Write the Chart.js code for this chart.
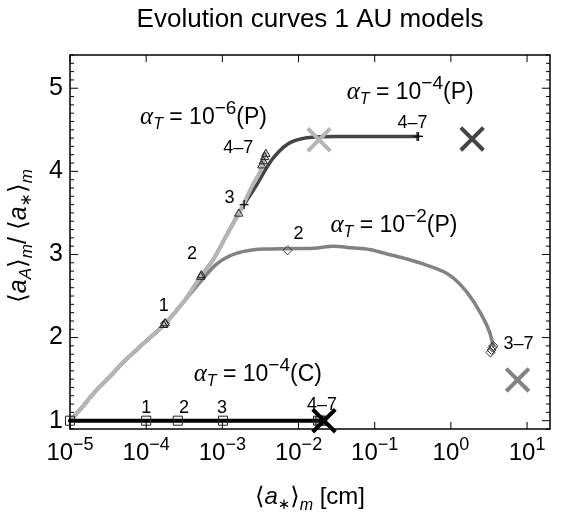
<!DOCTYPE html>
<html>
<head>
<meta charset="utf-8">
<title>Evolution curves 1 AU models</title>
<script src="https://cdn.jsdelivr.net/npm/chart.js@4.4.1/dist/chart.umd.min.js"></script>
<style>
  html, body { margin: 0; padding: 0; background: #fff; }
  #evoChart { display: block; }
</style>
</head>
<body>
<canvas id="evoChart" width="570" height="515"></canvas>
<script>
// <a*>_m [cm] on x, <a_A>_m / <a*>_m on y
const xTicks = [1e-5, 1e-4, 1e-3, 1e-2, 1e-1, 1e0, 1e1];
const xTickExp = ['\u22125', '\u22124', '\u22123', '\u22122', '\u22121', '0', '1'];
const yTicks = [1, 2, 3, 4, 5];

// alpha_T = 1e-6 (P), light grey
const p6X = [1e-5, 1.41e-5, 2.0e-5, 3.24e-5, 5.37e-5, 9.5e-5, 1.74e-4, 3.16e-4, 5.25e-4, 7.6e-4, 1.12e-3, 1.64e-3, 2.45e-3, 3.3e-3, 3.7e-3];
const p6Y = [1.00, 1.15, 1.32, 1.52, 1.73, 1.94, 2.16, 2.44, 2.74, 2.94, 3.22, 3.49, 3.82, 4.05, 4.22];

// alpha_T = 1e-4 (P), dark grey
const p4X = [1e-5, 1.41e-5, 2.0e-5, 3.24e-5, 5.37e-5, 9.5e-5, 1.74e-4, 3.16e-4, 5.25e-4, 7.6e-4, 1.12e-3, 1.58e-3, 1.93e-3, 2.75e-3, 4.47e-3, 7.24e-3, 1.2e-2, 1.86e-2, 3.16e-2, 0.37];
const p4Y = [1.00, 1.15, 1.32, 1.52, 1.73, 1.94, 2.16, 2.44, 2.74, 2.94, 3.22, 3.47, 3.60, 3.82, 4.14, 4.33, 4.40, 4.415, 4.42, 4.42];

// alpha_T = 1e-2 (P), mid grey
const p2X = [1e-5, 1.41e-5, 2.0e-5, 3.24e-5, 5.37e-5, 9.5e-5, 1.74e-4, 3.16e-4, 3.98e-4, 5.25e-4, 8.3e-4, 1.23e-3, 2.0e-3, 3.55e-3, 7.2e-3, 1.58e-2, 2.9e-2, 5.0e-2, 8.5e-2, 0.17, 0.28, 0.45, 1.0, 1.64, 2.43, 3.24, 3.6];
const p2Y = [1.00, 1.15, 1.32, 1.52, 1.73, 1.94, 2.16, 2.44, 2.55, 2.68, 2.88, 2.98, 3.04, 3.065, 3.07, 3.075, 3.10, 3.08, 3.06, 2.99, 2.94, 2.88, 2.74, 2.54, 2.30, 2.06, 1.90];

// alpha_T = 1e-4 (C), black
const c4X = [1e-5, 1.9e-2];
const c4Y = [1.0, 1.0];

// snapshot markers
const triX = [1.7e-4, 1.78e-4, 5.2e-4, 5.3e-4, 1.64e-3, 3.3e-3, 3.45e-3, 3.6e-3, 3.72e-3];
const triY = [2.15, 2.17, 2.73, 2.75, 3.49, 4.07, 4.12, 4.17, 4.21];
const plusX = [1.93e-3, 0.36, 0.375];
const plusY = [3.60, 4.42, 4.42];
const diaX = [1.76e-4, 7.2e-3, 3.3, 3.42, 3.52, 3.6];
const diaY = [2.17, 3.05, 1.82, 1.85, 1.88, 1.90];
const sqX = [1e-5, 1e-4, 2.6e-4, 1.02e-3, 1.8e-2, 1.9e-2, 2.0e-2];
const sqY = [1.0, 1.0, 1.0, 1.0, 1.0, 1.0, 1.0];

// crosses (end states)
const endX = [0.0186, 1.9, 7.5, 0.0216];
const endY = [4.38, 4.39, 1.49, 1.0];

const LIGHT = '#b5b5b5';
const DARK = '#444444';
const MID = '#828282';
const SANS = '"Liberation Sans", "DejaVu Sans", Arial, sans-serif';
const SERIF = '"Liberation Serif", "DejaVu Serif", serif';

const pts = (xs, ys) => xs.map((x, i) => ({ x: x, y: ys[i] }));

function curve(xs, ys, color, width, order) {
    return {
        data: pts(xs, ys),
        showLine: true,
        borderColor: color,
        borderWidth: width,
        pointRadius: 0,
        cubicInterpolationMode: 'monotone',
        borderCapStyle: 'round',
        borderJoinStyle: 'round',
        clip: false,
        order: order
    };
}

function markers(xs, ys, style, radius, color, width, order) {
    return {
        data: pts(xs, ys),
        showLine: false,
        pointStyle: style,
        pointRadius: radius,
        pointBorderColor: color,
        pointBackgroundColor: 'rgba(0,0,0,0)',
        pointBorderWidth: width,
        clip: false,
        order: order
    };
}

// text annotations, anchored in data coordinates
function alphaLabel(exp, kind) {
    return [
        { t: '\u03b1', size: 25, font: SERIF, italic: true },
        { t: 'T', size: 16, dy: 5, italic: true },
        { t: ' = 10', size: 23 },
        { t: '\u2212' + exp, size: 19, dy: -10 },
        { t: '(' + kind + ')', size: 23 }
    ];
}
const notes = [
    { x: 8.3e-5, y: 4.566, align: 'left', parts: alphaLabel('6', 'P') },
    { x: 0.0428, y: 4.867, align: 'left', parts: alphaLabel('4', 'P') },
    { x: 0.0262, y: 3.265, align: 'left', parts: alphaLabel('2', 'P') },
    { x: 4.2e-4, y: 1.473, align: 'left', parts: alphaLabel('4', 'C') },
    { x: 1.70e-4, y: 2.317, parts: [{ t: '1', size: 18 }] },
    { x: 4.0e-4, y: 2.94, parts: [{ t: '2', size: 18 }] },
    { x: 1.24e-3, y: 3.623, parts: [{ t: '3', size: 18 }] },
    { x: 1.62e-3, y: 4.225, parts: [{ t: '4\u20137', size: 18 }] },
    { x: 1.0e-2, y: 3.181, parts: [{ t: '2', size: 18 }] },
    { x: 0.313, y: 4.527, parts: [{ t: '4\u20137', size: 18 }] },
    { x: 7.73, y: 1.864, parts: [{ t: '3\u20137', size: 18 }] },
    { x: 1.0e-4, y: 1.093, parts: [{ t: '1', size: 18 }] },
    { x: 3.13e-4, y: 1.093, parts: [{ t: '2', size: 18 }] },
    { x: 9.9e-4, y: 1.093, parts: [{ t: '3', size: 18 }] },
    { x: 2.03e-2, y: 1.133, parts: [{ t: '4\u20137', size: 18 }] }
];

function fontOf(p) {
    return (p.italic ? 'italic ' : '') + p.size + 'px ' + (p.font || SANS);
}

function drawParts(ctx, parts, x, y, align) {
    let total = 0;
    parts.forEach(p => {
        ctx.font = fontOf(p);
        p.w = ctx.measureText(p.t).width;
        total += p.w;
    });
    let cx = align === 'left' ? x : x - total / 2;
    parts.forEach(p => {
        ctx.font = fontOf(p);
        ctx.fillText(p.t, cx, y + (p.dy || 0));
        cx += p.w;
    });
}

const framePlugin = {
    id: 'frame',
    afterDraw(chart) {
        const ctx = chart.ctx;
        const area = chart.chartArea;
        const xs = chart.scales.x;
        const ys = chart.scales.y;
        ctx.save();
        ctx.fillStyle = '#000';
        ctx.strokeStyle = '#000';
        ctx.textAlign = 'left';
        ctx.textBaseline = 'alphabetic';

        // frame
        ctx.lineWidth = 1.5;
        ctx.strokeRect(area.left, area.top, area.right - area.left, area.bottom - area.top);

        // inward ticks
        ctx.lineWidth = 1;
        ctx.beginPath();
        for (let i = 9; i <= 54; i++) {
            const py = ys.getPixelForValue(i / 10);
            const len = i % 10 === 0 ? 8 : 4;
            ctx.moveTo(area.left, py);
            ctx.lineTo(area.left + len, py);
            ctx.moveTo(area.right, py);
            ctx.lineTo(area.right - len, py);
        }
        xTicks.forEach(v => {
            const px = xs.getPixelForValue(v);
            ctx.moveTo(px, area.bottom);
            ctx.lineTo(px, area.bottom - 7);
            ctx.moveTo(px, area.top);
            ctx.lineTo(px, area.top + 7);
        });
        ctx.stroke();

        // x tick labels 10^n
        xTicks.forEach((v, i) => {
            const px = xs.getPixelForValue(v);
            drawParts(ctx, [
                { t: '10', size: 24 },
                { t: xTickExp[i], size: 18, dy: -10 }
            ], px, area.bottom + 31, 'center');
        });

        // annotations
        notes.forEach(n => {
            drawParts(ctx, n.parts, xs.getPixelForValue(n.x), ys.getPixelForValue(n.y), n.align);
        });

        // title
        drawParts(ctx, [{ t: 'Evolution curves 1 AU models', size: 26 }], (area.left + area.right) / 2, 27, 'center');

        // x axis title
        drawParts(ctx, [
            { t: '\u27e8', size: 24 },
            { t: 'a', size: 24, italic: true },
            { t: '\u2217', size: 15, dy: 5 },
            { t: '\u27e9', size: 24 },
            { t: 'm', size: 16, dy: 6, italic: true },
            { t: ' [cm]', size: 24 }
        ], (area.left + area.right) / 2, 504, 'center');

        // y axis title
        ctx.translate(26, (area.top + area.bottom) / 2 - 6);
        ctx.rotate(-Math.PI / 2);
        drawParts(ctx, [
            { t: '\u27e8', size: 25 },
            { t: 'a', size: 25, italic: true },
            { t: 'A', size: 17, dy: 5, italic: true },
            { t: '\u27e9', size: 25 },
            { t: 'm', size: 17, dy: 6, italic: true },
            { t: '/ \u27e8', size: 25 },
            { t: 'a', size: 25, italic: true },
            { t: '\u2217', size: 16, dy: 5 },
            { t: '\u27e9', size: 25 },
            { t: 'm', size: 17, dy: 6, italic: true }
        ], 0, 0, 'center');
        ctx.restore();
    }
};

const ctx = document.getElementById('evoChart').getContext('2d');

new Chart(ctx, {
    type: 'scatter',
    data: {
        datasets: [
            markers(endX.slice(0, 1), endY.slice(0, 1), 'crossRot', 16, LIGHT, 4, 0),
            markers(endX.slice(1, 2), endY.slice(1, 2), 'crossRot', 16, DARK, 4, 0),
            markers(endX.slice(2, 3), endY.slice(2, 3), 'crossRot', 16, MID, 4, 0),
            markers(endX.slice(3, 4), endY.slice(3, 4), 'crossRot', 16, '#000', 4, 0),
            markers(triX, triY, 'triangle', 4.8, '#222', 1, 1),
            markers(plusX, plusY, 'cross', 4.5, '#111', 1.3, 1),
            markers(diaX, diaY, 'rectRot', 4.5, '#333', 1, 1),
            markers(sqX, sqY, 'rect', 6.4, '#222', 1, 1),
            curve(c4X, c4Y, '#000', 4, 2),
            curve(p6X, p6Y, LIGHT, 4, 3),
            curve(p4X, p4Y, DARK, 3.5, 4),
            curve(p2X, p2Y, MID, 3.5, 5)
        ]
    },
    options: {
        responsive: false,
        animation: false,
        devicePixelRatio: 1,
        layout: { padding: { top: 55, right: 8, left: 0, bottom: 0 } },
        plugins: {
            legend: { display: false },
            tooltip: { enabled: false },
            title: { display: false }
        },
        scales: {
            x: {
                type: 'logarithmic',
                min: 1e-5,
                max: 20,
                afterFit: s => { s.height = 86; },
                afterBuildTicks: s => { s.ticks = xTicks.map(v => ({ value: v })); },
                ticks: { display: false },
                grid: { display: false, drawTicks: false },
                border: { display: false }
            },
            y: {
                type: 'linear',
                min: 0.9,
                max: 5.4,
                afterFit: s => { s.width = 70; },
                afterBuildTicks: s => { s.ticks = yTicks.map(v => ({ value: v })); },
                ticks: {
                    color: '#000',
                    padding: 7,
                    font: { size: 25, family: SANS }
                },
                grid: { display: false, drawTicks: false },
                border: { display: false }
            }
        }
    },
    plugins: [framePlugin]
});
</script>
</body>
</html>
